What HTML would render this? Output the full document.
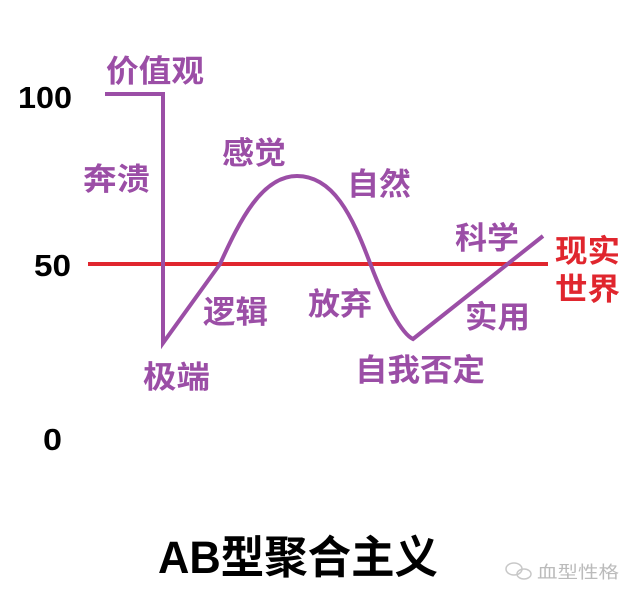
<!DOCTYPE html>
<html><head><meta charset="utf-8"><style>
html,body{margin:0;padding:0;background:#fff;}
svg{display:block;}
text{font-family:"Liberation Sans","Noto Sans CJK SC",sans-serif;font-weight:bold;}
.p{fill:#9b4ea6;font-size:31px;}
.k{fill:#000;font-size:31px;}
</style></head><body>
<svg width="640" height="602" viewBox="0 0 640 602" xmlns="http://www.w3.org/2000/svg">
<rect width="640" height="602" fill="#fff"/>
<line x1="88" y1="264" x2="548" y2="264" stroke="#e0262e" stroke-width="4"/>
<path d="M105 94 L163 94 L163 343 L220 264 C240 220 262 176 297 176 C333 176 352 215 370 263 C386 305 402 334 413 339 L543 236" fill="none" stroke="#9b4ea6" stroke-width="4" stroke-linejoin="miter"/>
<text class="k" x="18" y="108" textLength="54" lengthAdjust="spacingAndGlyphs">100</text>
<text class="k" x="34" y="276" textLength="37" lengthAdjust="spacingAndGlyphs">50</text>
<text class="k" x="43" y="450" textLength="19" lengthAdjust="spacingAndGlyphs">0</text>
<text class="p" x="106" y="82" textLength="98" lengthAdjust="spacingAndGlyphs">价值观</text>
<text class="p" x="83" y="190" textLength="67" lengthAdjust="spacingAndGlyphs">奔溃</text>
<text class="p" x="222" y="164" textLength="64" lengthAdjust="spacingAndGlyphs">感觉</text>
<text class="p" x="347" y="195" textLength="64" lengthAdjust="spacingAndGlyphs">自然</text>
<text class="p" x="455" y="249" textLength="64" lengthAdjust="spacingAndGlyphs">科学</text>
<text class="p" x="203" y="323" textLength="65" lengthAdjust="spacingAndGlyphs">逻辑</text>
<text class="p" x="308" y="315" textLength="64" lengthAdjust="spacingAndGlyphs">放弃</text>
<text class="p" x="465" y="328" textLength="65" lengthAdjust="spacingAndGlyphs">实用</text>
<text class="p" x="143" y="388" textLength="67" lengthAdjust="spacingAndGlyphs">极端</text>
<text class="p" x="355" y="381" textLength="130" lengthAdjust="spacingAndGlyphs">自我否定</text>
<text x="555" y="262" style="fill:#e0262e;font-size:31px" textLength="65" lengthAdjust="spacingAndGlyphs">现实</text>
<text x="555" y="300" style="fill:#e0262e;font-size:31px" textLength="65" lengthAdjust="spacingAndGlyphs">世界</text>
<text x="158" y="573" style="fill:#000;font-size:45px" textLength="280" lengthAdjust="spacingAndGlyphs">AB型聚合主义</text>
<g fill="none" stroke="#c8c8c8" stroke-width="1.5">
<ellipse cx="514" cy="569" rx="8" ry="6"/>
<ellipse cx="524" cy="574" rx="7" ry="5"/>
</g>
<text x="537" y="578" style="fill:#bbb;font-size:17px;font-weight:normal" textLength="82" lengthAdjust="spacingAndGlyphs">血型性格</text>
</svg>
</body></html>
